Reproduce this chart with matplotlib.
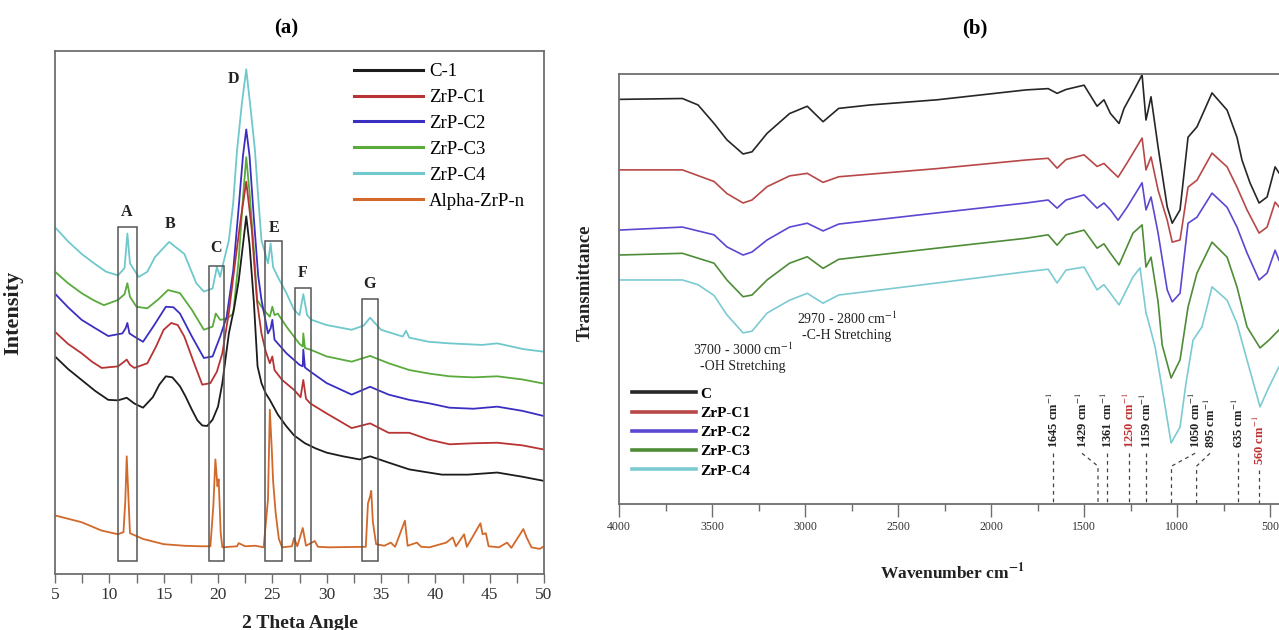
import matplotlib
matplotlib.use("Agg")
import matplotlib.pyplot as plt
from matplotlib.patches import Rectangle
from matplotlib.ticker import MultipleLocator

plt.rcParams['font.family'] = ['Liberation Serif', 'DejaVu Serif']
plt.rcParams['mathtext.fontset'] = 'stix'

# ---------------- Panel (a): XRD data (2 theta, intensity a.u.) ----------------
xrd_c1 = [(5, 41.6), (6.2, 39.2), (7.45, 37.1), (8.7, 35.0), (9.9, 33.3), (10.8, 33.2), (11.6, 33.7),
          (12.3, 32.6), (13.1, 31.8), (14.0, 33.8), (14.6, 36.2), (15.2, 37.8), (15.8, 37.6), (16.5, 35.9),
          (17.0, 34.0), (17.6, 31.4), (18.1, 29.4), (18.55, 28.4), (19.0, 28.3), (19.5, 29.5), (20.0, 32.0),
          (20.4, 36.5), (21.0, 46.0), (21.5, 51.0), (21.9, 56.0), (22.3, 63.0), (22.6, 68.4), (22.9, 63.0),
          (23.3, 52.0), (23.64, 39.7), (24.0, 36.5), (24.4, 34.5), (24.77, 33.3), (25.5, 30.5), (26.27, 28.3),
          (27.0, 26.5), (28.0, 25.0), (29.0, 24.0), (30.0, 23.2), (31.5, 22.5), (33.05, 21.9), (34.0, 22.5),
          (35.7, 21.3), (37.6, 20.0), (40.6, 19.0), (43.0, 19.0), (45.7, 19.4), (48.0, 18.6), (50.0, 17.8)]
xrd_zrp_c1 = [(5, 46.3), (6.2, 44.0), (7.45, 42.2), (8.4, 40.6), (9.3, 39.4), (10.8, 39.7), (11.3, 40.5),
              (11.6, 41.0), (11.9, 40.0), (12.3, 39.4), (13.5, 40.3), (14.3, 43.5), (15.0, 46.7), (15.7, 48.0),
              (16.3, 47.6), (16.9, 45.4), (17.8, 40.3), (18.55, 36.2), (19.3, 36.5), (19.9, 38.7), (20.4, 42.2),
              (21.0, 50.0), (21.6, 60.0), (22.1, 68.0), (22.6, 75.0), (23.1, 66.0), (23.6, 52.0), (24.0, 46.0),
              (24.4, 42.5), (24.77, 40.3), (25.0, 41.6), (25.2, 39.0), (25.9, 37.1), (27.0, 35.2), (27.6, 33.8),
              (27.85, 37.1), (28.1, 33.5), (28.5, 32.6), (30.0, 30.7), (32.3, 27.9), (34.0, 28.8), (35.7, 27.0),
              (37.6, 27.0), (39.4, 25.7), (41.3, 24.8), (43.5, 25.0), (45.7, 25.1), (48.0, 24.6), (50.0, 23.8)]
xrd_zrp_c2 = [(5, 53.6), (6.2, 51.0), (7.45, 48.6), (8.7, 47.0), (9.9, 45.5), (11.2, 46.0), (11.5, 47.0),
              (11.66, 48.0), (11.85, 46.0), (12.3, 45.4), (13.1, 44.4), (14.1, 47.5), (15.2, 51.1), (15.9, 51.0),
              (16.5, 49.8), (17.6, 45.4), (18.7, 41.3), (19.5, 41.6), (20.2, 45.4), (20.8, 49.2), (21.4, 58.0),
              (21.9, 70.0), (22.3, 80.0), (22.6, 85.0), (22.9, 80.0), (23.3, 68.0), (23.7, 57.0), (24.0, 52.4),
              (24.6, 46.0), (24.85, 47.0), (25.0, 48.6), (25.2, 44.8), (26.3, 42.2), (27.5, 40.0), (27.8, 39.7),
              (27.85, 42.9), (28.0, 39.5), (28.5, 38.7), (30.0, 36.5), (32.3, 34.3), (34.0, 35.8), (35.7, 34.3),
              (37.6, 33.3), (39.5, 32.6), (41.3, 31.8), (43.5, 31.6), (45.7, 32.0), (48.0, 31.2), (50.0, 30.2)]
xrd_zrp_c3 = [(5, 57.8), (6.2, 55.6), (7.45, 53.7), (8.5, 52.4), (9.5, 51.4), (10.8, 52.4), (11.4, 53.5),
              (11.66, 55.6), (11.9, 53.0), (12.5, 51.1), (13.5, 50.8), (14.5, 52.5), (15.4, 54.3), (16.5, 53.7),
              (17.6, 50.5), (18.7, 46.7), (19.5, 47.3), (19.8, 49.8), (20.2, 48.6), (20.8, 48.8), (21.4, 49.8),
              (21.9, 60.0), (22.3, 72.0), (22.6, 79.7), (22.9, 73.0), (23.3, 62.0), (23.6, 52.4), (24.2, 50.5),
              (24.77, 49.2), (25.0, 51.1), (25.2, 49.5), (25.5, 49.8), (26.3, 47.3), (27.5, 44.0), (27.8, 43.5),
              (27.85, 46.0), (28.0, 43.2), (28.5, 42.9), (30.0, 41.6), (32.3, 40.6), (34.0, 41.7), (35.7, 40.3),
              (37.6, 39.0), (39.5, 38.3), (41.3, 37.8), (43.5, 37.6), (45.7, 37.8), (48.0, 37.2), (50.0, 36.4)]
xrd_zrp_c4 = [(5, 66.3), (6.2, 63.6), (7.45, 61.2), (8.6, 59.4), (9.7, 57.8), (10.8, 57.1), (11.4, 58.5),
              (11.66, 65.1), (11.9, 59.4), (12.7, 56.8), (13.5, 57.8), (14.2, 60.6), (15.5, 63.5), (16.9, 61.2),
              (18.0, 55.6), (18.7, 54.0), (19.5, 54.6), (19.9, 58.7), (20.2, 56.8), (20.4, 58.7), (21.0, 63.8),
              (21.4, 71.0), (21.75, 81.0), (22.2, 90.0), (22.6, 96.5), (23.0, 89.0), (23.4, 81.0), (23.7, 72.0),
              (24.0, 63.8), (24.6, 59.4), (24.84, 63.2), (25.07, 58.7), (25.5, 56.8), (26.3, 53.7), (27.0, 50.5),
              (27.5, 49.5), (27.85, 53.5), (28.2, 49.5), (28.6, 48.6), (30.0, 47.6), (32.3, 46.7), (33.4, 47.5),
              (34.0, 49.0), (35.0, 46.7), (37.0, 45.4), (37.3, 46.5), (37.6, 45.2), (39.4, 44.4), (41.3, 44.1),
              (44.3, 43.8), (45.7, 44.1), (48.1, 43.0), (50.0, 42.5)]
xrd_alpha = [(5, 11.2), (7.45, 9.9), (9.3, 8.3), (10.8, 7.6), (11.3, 8.0), (11.47, 14.0), (11.6, 22.5),
             (11.75, 15.0), (11.9, 7.8), (13.1, 6.7), (15.0, 5.7), (16.9, 5.4), (18.4, 5.3), (19.3, 5.3),
             (19.57, 13.0), (19.76, 21.9), (19.95, 16.8), (20.06, 18.1), (20.25, 7.8), (20.4, 5.1), (21.75, 5.3),
             (21.9, 5.9), (22.5, 5.3), (23.45, 5.4), (24.2, 5.1), (24.6, 14.3), (24.77, 31.4), (24.95, 23.8),
             (25.07, 17.8), (25.3, 11.8), (25.6, 6.7), (25.9, 5.1), (26.8, 5.3), (27.0, 6.9), (27.3, 5.3),
             (27.8, 8.8), (28.1, 5.4), (28.9, 6.3), (29.2, 5.2), (30.2, 5.1), (33.6, 5.2), (33.8, 13.5),
             (34.0, 14.9), (34.1, 15.9), (34.25, 10.0), (34.55, 5.7), (35.3, 5.4), (35.9, 6.0), (36.3, 5.2),
             (37.2, 10.2), (37.45, 5.4), (38.3, 6.0), (38.7, 5.2), (39.45, 5.1), (41.0, 6.0), (41.3, 6.5),
             (41.6, 7.0), (41.9, 5.3), (42.65, 7.6), (42.9, 5.2), (44.15, 9.7), (44.35, 7.6), (44.65, 7.8),
             (44.9, 5.3), (45.85, 5.1), (46.6, 6.0), (47.0, 5.0), (48.1, 8.6), (48.4, 7.0), (48.85, 5.1),
             (49.6, 4.8), (50.0, 5.3)]

xrd_names = ["C-1", "ZrP-C1", "ZrP-C2", "ZrP-C3", "ZrP-C4", "Alpha-ZrP-n"]
xrd_series = [xrd_c1, xrd_zrp_c1, xrd_zrp_c2, xrd_zrp_c3, xrd_zrp_c4, xrd_alpha]
xrd_colors = ["#1c1c1c", "#b83434", "#3b2fc2", "#5aaa3c", "#6ec8cc", "#d2692a"]

box_left = [10.84, 19.19, 24.31, 27.10, 33.24]
box_right = [12.53, 20.55, 25.90, 28.60, 34.74]
box_top = [66.3, 58.9, 63.6, 54.7, 52.6]
box_bottom = 2.5
peak_labels = ["A", "B", "C", "D", "E", "F", "G"]
peak_label_x = [11.6, 15.6, 19.8, 21.4, 25.2, 27.8, 33.95]
peak_label_y = [69.3, 66.9, 62.3, 94.7, 66.1, 57.5, 55.4]

# ---------------- Panel (b): FTIR data (wavenumber, transmittance a.u.) ----------------
ftir_c = [(4000, 94.1), (3659, 94.3), (3575, 92.8), (3489, 88.5), (3420, 84.7), (3333, 81.4), (3285, 81.9),
          (3204, 86.2), (3083, 90.8), (2988, 92.5), (2903, 88.9), (2819, 92.0), (2650, 92.8), (2290, 94.0),
          (1812, 96.3), (1693, 96.6), (1645, 95.5), (1597, 96.4), (1500, 97.4), (1430, 92.5), (1393, 94.0),
          (1358, 90.8), (1312, 88.5), (1285, 92.0), (1237, 95.8), (1188, 99.8), (1167, 89.3), (1140, 94.7),
          (1102, 83.0), (1053, 69.1), (1026, 65.3), (984, 68.4), (941, 85.3), (893, 87.7), (812, 95.6),
          (731, 91.6), (678, 85.3), (651, 80.0), (608, 74.7), (559, 70.0), (516, 71.4), (473, 78.4), (452, 77.0)]
ftir_zrp_c1 = [(4000, 77.7), (3659, 77.7), (3489, 75.0), (3420, 72.2), (3333, 70.0), (3285, 70.7), (3204, 73.8),
               (3083, 76.3), (2988, 76.9), (2903, 74.8), (2819, 76.1), (2290, 78.0), (1812, 80.0), (1693, 80.4),
               (1645, 78.1), (1597, 80.1), (1500, 81.2), (1430, 78.5), (1393, 79.2), (1358, 77.7), (1317, 76.0),
               (1269, 79.3), (1188, 85.1), (1167, 77.7), (1140, 80.7), (1102, 73.0), (1053, 66.0), (1026, 60.9),
               (984, 61.4), (941, 73.7), (893, 75.3), (812, 81.6), (731, 78.4), (678, 73.7), (624, 68.4),
               (559, 63.0), (516, 64.4), (473, 70.2), (452, 69.1)]
ftir_zrp_c2 = [(4000, 63.7), (3659, 64.4), (3489, 62.6), (3420, 59.8), (3333, 57.9), (3285, 58.6), (3204, 61.4),
               (3083, 64.4), (2988, 65.3), (2903, 63.5), (2819, 65.1), (2290, 67.7), (1812, 70.0), (1693, 70.7),
               (1645, 68.8), (1597, 70.7), (1500, 71.9), (1430, 68.8), (1393, 70.0), (1358, 68.4), (1317, 66.0),
               (1269, 69.0), (1188, 74.7), (1167, 68.4), (1140, 71.4), (1102, 63.0), (1053, 49.8), (1026, 47.0),
               (984, 49.0), (941, 65.3), (893, 66.7), (812, 72.3), (731, 69.0), (678, 64.4), (624, 58.4),
               (559, 52.1), (516, 53.7), (473, 59.0), (452, 56.7)]
ftir_zrp_c3 = [(4000, 57.9), (3659, 58.3), (3489, 56.0), (3420, 52.1), (3333, 48.2), (3285, 48.6), (3204, 52.1),
               (3083, 56.0), (2988, 57.5), (2903, 54.8), (2819, 56.9), (2290, 59.5), (1812, 61.8), (1693, 62.6),
               (1645, 60.2), (1597, 62.6), (1500, 63.7), (1430, 59.5), (1393, 60.5), (1358, 58.3), (1312, 55.6),
               (1237, 63.0), (1188, 64.9), (1167, 55.1), (1140, 57.4), (1102, 47.0), (1080, 37.0), (1032, 29.3),
               (984, 33.5), (941, 45.8), (893, 53.7), (812, 60.9), (731, 57.4), (678, 50.5), (624, 41.2),
               (554, 36.3), (506, 38.1), (452, 40.5)]
ftir_zrp_c4 = [(4000, 52.1), (3659, 52.1), (3575, 51.0), (3489, 48.5), (3420, 44.0), (3333, 39.8), (3285, 40.2),
               (3204, 44.4), (3083, 47.4), (2988, 49.0), (2903, 46.7), (2819, 48.6), (2290, 51.4), (1812, 54.0),
               (1693, 54.6), (1645, 51.4), (1597, 54.4), (1500, 55.1), (1430, 49.8), (1393, 51.0), (1358, 49.0),
               (1312, 46.3), (1237, 52.8), (1199, 54.9), (1167, 44.4), (1156, 42.8), (1118, 36.5), (1070, 24.2),
               (1032, 14.2), (984, 17.9), (952, 28.1), (914, 38.1), (866, 41.2), (812, 50.5), (731, 47.4),
               (678, 42.0), (624, 33.5), (554, 22.6), (506, 27.2), (452, 31.9)]

ftir_names = ["C", "ZrP-C1", "ZrP-C2", "ZrP-C3", "ZrP-C4"]
ftir_series = [ftir_c, ftir_zrp_c1, ftir_zrp_c2, ftir_zrp_c3, ftir_zrp_c4]
ftir_colors = ["#262626", "#b84848", "#5a48d2", "#4e8c38", "#7ccbd2"]

band_labels = ["1645", "1429", "1361", "1250", "1159", "1050", "895", "635", "560"]
band_label_x = [1667, 1511, 1376, 1258, 1167, 903, 823, 672, 559]
band_line_x = [1667, 1425, 1376, 1258, 1167, 1030, 895, 672, 559]
band_label_red = [False, False, False, True, False, False, False, False, True]

# ---------------- Figure ----------------
W, H = 1279, 630
fig = plt.figure(figsize=(W / 100, H / 100), dpi=100)

def px_axes(l, t, r, b):
    return [l / W, 1 - b / H, (r - l) / W, (b - t) / H]

spine_col = "#6e6e6e"

# ---- Panel (a)
ax = fig.add_axes(px_axes(55, 51, 544, 574))
order = [4, 3, 2, 1, 0, 5]
handles = {}
for i in order:
    xs = [p[0] for p in xrd_series[i]]
    ys = [p[1] for p in xrd_series[i]]
    ln, = ax.plot(xs, ys, color=xrd_colors[i], lw=1.3, label=xrd_names[i])
    handles[i] = ln
for l, r, t in zip(box_left, box_right, box_top):
    ax.add_patch(Rectangle((l, box_bottom), r - l, t - box_bottom, fill=False,
                           edgecolor="#555555", lw=1.1, zorder=5))
for lab, lx, ly in zip(peak_labels, peak_label_x, peak_label_y):
    ax.text(lx, ly, lab, ha="center", va="center", fontsize=11.5, fontweight="bold", color="#222222")
ax.set_xlim(5, 50)
ax.set_ylim(0, 100)
ax.set_yticks([])
ax.xaxis.set_major_locator(MultipleLocator(5))
ax.xaxis.set_minor_locator(MultipleLocator(2.5))
ax.tick_params(axis="x", which="both", direction="out", length=6.5, width=1.0, color=spine_col,
               labelsize=12.5, labelcolor="#333333", pad=3)
for s in ax.spines.values():
    s.set_color(spine_col)
    s.set_linewidth(1.3)
ax.set_xlabel("2 Theta Angle", fontsize=14, fontweight="bold", color="#222222")
ax.xaxis.set_label_coords(0.5, -0.078)
ax.set_ylabel("Intensity", fontsize=16, fontweight="bold", color="#222222")
ax.yaxis.set_label_coords(-0.065, 0.5)
leg = ax.legend([handles[i] for i in range(6)], xrd_names, loc="upper left",
                bbox_to_anchor=(0.611, 0.977), frameon=False, fontsize=13.5,
                handlelength=3.7, handletextpad=0.3, labelspacing=0.47, borderpad=0, borderaxespad=0)
for lh in leg.get_lines():
    lh.set_linewidth(2.2)
fig.text(286 / W, 1 - 28 / H, "(a)", ha="center", va="center", fontsize=15, fontweight="bold")

# ---- Panel (b)
bx = fig.add_axes(px_axes(619, 74, 1279, 504))
bh = []
for i, ser in enumerate(ftir_series):
    xs = [p[0] for p in ser]
    ys = [p[1] for p in ser]
    ln, = bx.plot(xs, ys, color=ftir_colors[i], lw=1.2, label=ftir_names[i])
    bh.append(ln)
bx.set_xlim(4000, 452)
bx.set_ylim(0, 100)
bx.set_yticks([])
bx.xaxis.set_major_locator(MultipleLocator(500))
bx.xaxis.set_minor_locator(MultipleLocator(250))
bx.tick_params(axis="x", which="major", direction="out", length=9, width=1.0, color=spine_col,
               labelsize=8.5, labelcolor="#333333", pad=3)
bx.tick_params(axis="x", which="minor", direction="out", length=5, width=1.0, color=spine_col)
bx.spines["right"].set_visible(False)
for k in ["left", "top", "bottom"]:
    bx.spines[k].set_color(spine_col)
    bx.spines[k].set_linewidth(1.3)
bx.set_xlabel("Wavenumber cm$^{\\mathbf{-1}}$", fontsize=12.5, fontweight="bold", color="#222222")
bx.xaxis.set_label_coords(0.505, -0.135)
bx.set_ylabel("Transmittance", fontsize=13.5, fontweight="bold", color="#222222")
bx.yaxis.set_label_coords(-0.039, 0.514)
lg = bx.legend(bh, ftir_names, loc="upper left", bbox_to_anchor=(0.0197, 0.272), frameon=False,
               prop={"size": 11, "weight": "bold"}, handlelength=4.2, handletextpad=0.25,
               labelspacing=0.36, borderpad=0, borderaxespad=0)
for lh in lg.get_lines():
    lh.set_linewidth(2.6)

bx.text(3333, 35.8, "3700 - 3000 cm$^{-1}$", ha="center", va="center", fontsize=10, color="#222222")
bx.text(3333, 32.0, "-OH Stretching", ha="center", va="center", fontsize=10, color="#222222")
bx.text(2774, 43.0, "2970 - 2800 cm$^{-1}$", ha="center", va="center", fontsize=10, color="#222222")
bx.text(2774, 39.3, "-C-H Stretching", ha="center", va="center", fontsize=10, color="#222222")

dash_kw = dict(color="#444444", lw=0.9, ls=(0, (3, 3)))
for lab, lx, vx, red in zip(band_labels, band_label_x, band_line_x, band_label_red):
    base = 9.0 if lab == "560" else 13.0
    bx.text(lx, base, lab + " cm$^{-1}$", rotation=90, ha="center", va="bottom", fontsize=9,
            fontweight="bold", color="#c03030" if red else "#222222")
    top = base - 1.2
    if abs(lx - vx) > 20:
        bx.plot([lx, vx, vx], [top, top - 3.0, 0], **dash_kw)
    else:
        bx.plot([vx, vx], [top, 0], **dash_kw)

fig.text(975 / W, 1 - 28 / H, "(b)", ha="center", va="center", fontsize=15, fontweight="bold")

fig.savefig("out.png", dpi=100)
